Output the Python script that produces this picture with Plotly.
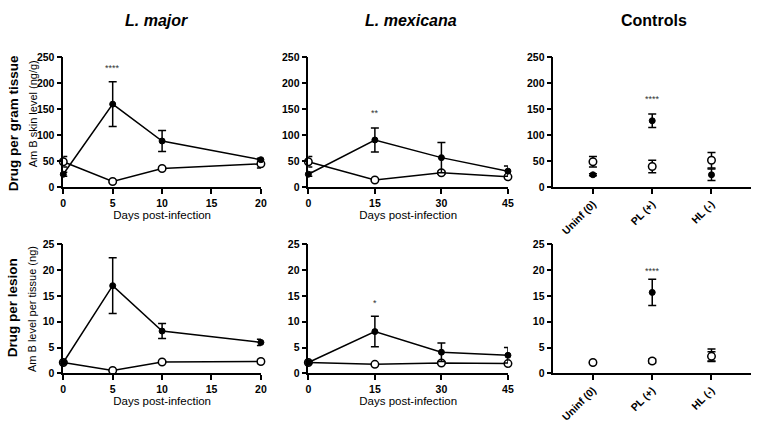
import plotly.graph_objects as go

# ---------------- data ----------------
major_days = [0, 5, 10, 20]
mex_days = [0, 15, 30, 45]
ctrl_cats = ["Uninf (0)", "PL (+)", "HL (-)"]
ctrl_pos = [0, 1, 2]

# Drug per gram tissue (ng/g)
major_g_filled = [25, 160, 89, 53]
major_g_filled_err = [4, 43, 20, 3]
major_g_open = [49, 11, 36, 45]
major_g_open_err = [10, 2, 2, 8]

mex_g_filled = [25, 91, 57, 31]
mex_g_filled_err = [4, 23, 29, 10]
mex_g_open = [49, 14, 28, 20]
mex_g_open_err = [10, 2, 3, 3]

ctrl_g_filled = [24, 128, 24]
ctrl_g_filled_err = [2, 13, 11]
ctrl_g_open = [49, 40, 52]
ctrl_g_open_err = [10, 12, 15]

# Drug per lesion (ng)
major_l_filled = [2.1, 17.0, 8.2, 6.0]
major_l_filled_err = [0.2, 5.4, 1.45, 0.6]
major_l_open = [2.1, 0.55, 2.2, 2.3]
major_l_open_err = [0.1, 0.1, 0.2, 0.4]

mex_l_filled = [2.1, 8.1, 4.1, 3.5]
mex_l_filled_err = [0.2, 2.95, 1.8, 1.5]
mex_l_open = [2.1, 1.75, 2.0, 1.9]
mex_l_open_err = [0.1, 0.1, 0.2, 0.2]

ctrl_l_filled = [2.0, 15.7, 3.5]
ctrl_l_filled_err = [0.1, 2.55, 1.2]
ctrl_l_open = [2.1, 2.4, 3.3]
ctrl_l_open_err = [0.1, 0.4, 0.9]

col_titles = ["<i>L. major</i>", "<i>L. mexicana</i>", "Controls"]
row_titles = ["Drug per gram tissue", "Drug per lesion"]
y_titles = ["Am B skin level (ng/g)", "Am B level per tissue (ng)"]
x_title = "Days post-infection"

# significance stars: (panel index, x, y, text)
stars = [(0, 5, 230, "****"), (1, 15, 142, "**"), (2, 1, 169, "****"),
         (3, 5, 25.3, "****"), (4, 15, 13.6, "*"), (5, 1, 19.9, "****")]

# ---------------- layout geometry ----------------
W, H = 760, 423
col_px = [(61, 261), (309, 511), (557, 757)]
row_px = [(53, 187), (246, 379)]

FONT = "Liberation Sans, Arial, sans-serif"
fig = go.Figure()

panels = [
    (major_days, major_g_filled, major_g_filled_err, major_g_open, major_g_open_err),
    (mex_days, mex_g_filled, mex_g_filled_err, mex_g_open, mex_g_open_err),
    (ctrl_pos, ctrl_g_filled, ctrl_g_filled_err, ctrl_g_open, ctrl_g_open_err),
    (major_days, major_l_filled, major_l_filled_err, major_l_open, major_l_open_err),
    (mex_days, mex_l_filled, mex_l_filled_err, mex_l_open, mex_l_open_err),
    (ctrl_pos, ctrl_l_filled, ctrl_l_filled_err, ctrl_l_open, ctrl_l_open_err),
]

x_ranges = [[0, 20], [0, 45], [-0.667, 2.667]]
x_ticks = [[0, 5, 10, 15, 20], [0, 15, 30, 45], ctrl_pos]
y_ranges = [[0, 250], [0, 25]]
y_ticks = [[0, 50, 100, 150, 200, 250], [0, 5, 10, 15, 20, 25]]

for i, (xs, yf, ef, yo, eo) in enumerate(panels):
    r, c = divmod(i, 3)
    n = i + 1
    xa = "x" if n == 1 else f"x{n}"
    ya = "y" if n == 1 else f"y{n}"
    is_ctrl = c == 2
    mode = "markers" if is_ctrl else "lines+markers"
    filled = go.Scatter(
        x=xs, y=yf, mode=mode, xaxis=xa, yaxis=ya, cliponaxis=False,
        line=dict(color="black", width=1.5),
        marker=dict(symbol="circle", size=6, color="black",
                    line=dict(color="black", width=1)),
        error_y=dict(type="data", array=ef, visible=True, color="black",
                     thickness=1.5, width=4),
        showlegend=False)
    opened = go.Scatter(
        x=xs, y=yo, mode=mode, xaxis=xa, yaxis=ya, cliponaxis=False,
        line=dict(color="black", width=1.5),
        marker=dict(symbol="circle", size=7.5, color="white",
                    line=dict(color="black", width=1.5)),
        error_y=dict(type="data", array=eo, visible=True, color="black",
                     thickness=1.5, width=4),
        showlegend=False)
    if is_ctrl:
        fig.add_trace(filled)
        fig.add_trace(opened)
    else:
        fig.add_trace(opened)
        fig.add_trace(filled)

    x0, x1 = col_px[c]
    y0, y1 = row_px[r]
    xkey = "xaxis" if n == 1 else f"xaxis{n}"
    ykey = "yaxis" if n == 1 else f"yaxis{n}"
    xaxis = dict(domain=[x0 / W, x1 / W], anchor=ya, range=x_ranges[c],
                 tickvals=x_ticks[c], showgrid=False, zeroline=False,
                 showline=True, linecolor="black", linewidth=1.5,
                 ticks="outside", ticklen=5, tickwidth=1.5, tickcolor="black",
                 tickfont=dict(family=FONT, size=10.5, color="black", weight="bold"),
                 fixedrange=True)
    if is_ctrl:
        xaxis.update(ticktext=ctrl_cats, tickangle=-45)
    else:
        xaxis.update(title=dict(text=x_title, standoff=3,
                                font=dict(family=FONT, size=11.5, color="black")))
    yaxis = dict(domain=[1 - y1 / H, 1 - y0 / H], anchor=xa, range=y_ranges[r],
                 tickvals=y_ticks[r], showgrid=False, zeroline=False,
                 showline=True, linecolor="black", linewidth=1.5,
                 ticks="outside", ticklen=5, tickwidth=1.5, tickcolor="black",
                 tickfont=dict(family=FONT, size=10.5, color="black", weight="bold"),
                 fixedrange=True)
    fig.update_layout({xkey: xaxis, ykey: yaxis})

annotations = []
for (i, sx, sy, txt) in stars:
    n = i + 1
    xa = "x" if n == 1 else f"x{n}"
    ya = "y" if n == 1 else f"y{n}"
    annotations.append(dict(x=sx, y=sy, xref=xa, yref=ya, text=txt,
                            showarrow=False, font=dict(family=FONT, size=9, color="#333333")))

col_centers = [155.5, 413, 659]
for t, cx in zip(col_titles, col_centers):
    annotations.append(dict(x=cx / W, y=1 - 15 / H, xref="paper", yref="paper",
                            text=t, showarrow=False, xanchor="center", yanchor="middle",
                            font=dict(family=FONT, size=16, color="black", weight="bold")))

row_centers = [121, 311]
for t, cy in zip(row_titles, row_centers):
    annotations.append(dict(x=10 / W, y=1 - cy / H, xref="paper", yref="paper",
                            text=t, showarrow=False, textangle=-90,
                            xanchor="center", yanchor="middle",
                            font=dict(family=FONT, size=13.5, color="black", weight="bold")))

ytitle_centers = [111, 313]
for t, cy in zip(y_titles, ytitle_centers):
    annotations.append(dict(x=30 / W, y=1 - cy / H, xref="paper", yref="paper",
                            text=t, showarrow=False, textangle=-90,
                            xanchor="center", yanchor="middle",
                            font=dict(family=FONT, size=11, color="black")))

fig.update_layout(width=W, height=H, margin=dict(l=0, r=0, t=0, b=0),
                  paper_bgcolor="white", plot_bgcolor="white",
                  annotations=annotations, showlegend=False)

fig.write_html("out.html", config={"displayModeBar": False},
               post_script="document.body.style.margin='0px';document.body.style.overflow='hidden';")
